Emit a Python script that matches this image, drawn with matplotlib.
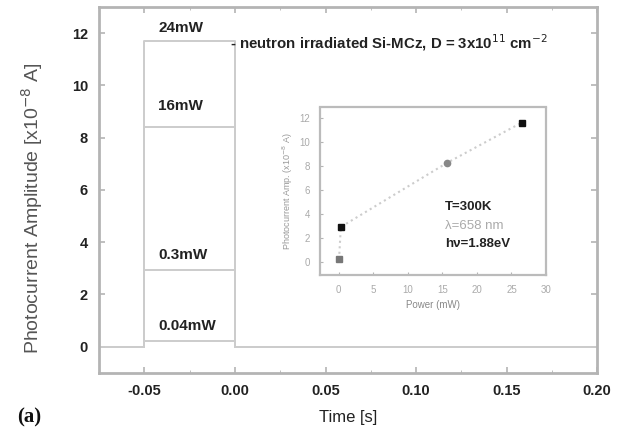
import matplotlib

matplotlib.use("Agg")
import matplotlib.pyplot as plt
import numpy as np

plt.rcParams["font.family"] = ["Liberation Sans", "DejaVu Sans"]

# step traces: baseline, laser on between -0.05 s and 0.00 s
T_ON = -0.05
T_OFF = 0.00
T_START = -0.075
T_END = 0.20
POWERS_LABEL = ["0.04mW", "0.3mW", "16mW", "24mW"]
AMPLITUDES = [0.2, 2.95, 8.4, 11.7]
LABEL_Y = [0.8, 3.5, 9.2, 12.2]

# inset: amplitude vs power
INSET_POWER = [0.04, 0.3, 15.7, 26.5]
INSET_AMP = [0.2, 2.9, 8.25, 11.6]
INSET_COLORS = ["#777777", "#111111", "#888888", "#111111"]
INSET_MARKERS = ["s", "s", "o", "s"]

FRAME = "#b4b4b4"

fig = plt.figure(figsize=(6.24, 4.33), dpi=100)
ax = fig.add_axes([0.159, 0.139, 0.798, 0.845])

for amp in AMPLITUDES:
    ax.plot([T_START, T_ON, T_ON, T_OFF, T_OFF, T_END], [0, 0, amp, amp, 0, 0],
            color="#cccccc", linewidth=1.4)

for lab, y in zip(POWERS_LABEL, LABEL_Y):
    ax.text(-0.0425, y, lab, fontsize=11, fontweight="bold", color="#222222",
            va="center", ha="left")

ax.text(-0.0025, 11.65, "- neutron irradiated Si-MCz, D = 3x10$^{11}$ cm$^{-2}$",
        fontsize=10.8, fontweight="bold", color="#222222", va="center", ha="left")

ax.set_xlim(T_START, 0.198)
ax.set_ylim(-1, 13)
ax.set_xticks([-0.05, 0.00, 0.05, 0.10, 0.15, 0.20])
ax.set_xticklabels(["-0.05", "0.00", "0.05", "0.10", "0.15", "0.20"])
ax.set_yticks([0, 2, 4, 6, 8, 10, 12])
ax.set_xticks(np.arange(-0.075, 0.2, 0.025), minor=True)
ax.tick_params(direction="in", top=True, right=True, length=4, width=1.2,
               color=FRAME, labelsize=10.5, pad=8)
ax.tick_params(which="minor", direction="in", top=True, length=2.5, color=FRAME)
for lbl in ax.get_xticklabels() + ax.get_yticklabels():
    lbl.set_fontweight("bold")
    lbl.set_color("#222222")
for sp in ax.spines.values():
    sp.set_color(FRAME)
    sp.set_linewidth(2)

ax.set_xlabel("Time [s]", fontsize=12, color="#222222", labelpad=9)
ax.set_ylabel("Photocurrent Amplitude [x10$^{-8}$ A]", fontsize=14, color="#555555")
ax.yaxis.set_label_coords(-0.108, 0.45)
fig.text(0.028, 0.025, "(a)", fontsize=15, fontweight="bold", family="Liberation Serif",
         color="#111111")

# inset
ins = fig.add_axes([0.513, 0.365, 0.362, 0.388])
ins.plot(INSET_POWER, INSET_AMP, color="#cccccc", linewidth=1.5, linestyle=":")
for x, y, c, m in zip(INSET_POWER, INSET_AMP, INSET_COLORS, INSET_MARKERS):
    ins.plot(x, y, marker=m, color=c, markersize=4.5, linestyle="none")
ins.set_xlim(-2.7, 30)
ins.set_ylim(-1.1, 12.9)
ins.set_xticks([0, 5, 10, 15, 20, 25, 30])
ins.set_yticks([0, 2, 4, 6, 8, 10, 12])
ins.tick_params(direction="in", length=2.5, color=FRAME, labelsize=7,
                labelcolor="#aaaaaa", pad=7)
for sp in ins.spines.values():
    sp.set_color("#bbbbbb")
    sp.set_linewidth(1.6)
    sp.set_linestyle((0, (3, 1)))
ins.set_xlabel("Power (mW)", fontsize=7, color="#888888", labelpad=4)
ins.set_ylabel("Photocurrent Amp. (x10$^{-8}$ A)", fontsize=6.5, color="#999999", labelpad=3)
ins.text(15.4, 4.6, "T=300K", fontsize=9.5, fontweight="bold", color="#222222", va="center")
ins.text(15.4, 3.0, "λ=658 nm", fontsize=9.5, color="#aaaaaa", va="center")
ins.text(15.4, 1.5, "hν=1.88eV", fontsize=9.5, fontweight="bold", color="#222222", va="center")

fig.savefig("out.png", dpi=100)
